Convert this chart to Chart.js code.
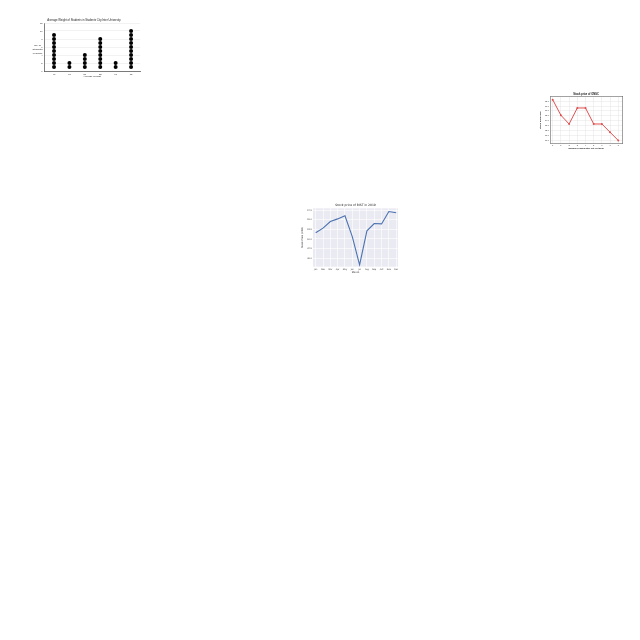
<!DOCTYPE html>
<html><head><meta charset="utf-8">
<script src="https://cdn.jsdelivr.net/npm/chart.js@4.4.0/dist/chart.umd.min.js"></script>
<style>
html,body{margin:0;padding:0;background:#fff;width:640px;height:640px;overflow:hidden}
canvas{position:absolute}
</style></head><body>
<canvas id="c1" width="116" height="68" style="left:28px;top:16px;width:116px;height:68px"></canvas>
<canvas id="c2" width="90" height="60" style="left:536px;top:91px;width:90px;height:60px"></canvas>
<canvas id="c3" width="102" height="75" style="left:299px;top:201px;width:102px;height:75px"></canvas>
<script>
// ---- Chart 1: dot plot of student weights ----
const weightCategories = ['40', '45', '50', '55', '60', '65'];
const studentCounts = [9, 2, 4, 8, 2, 10];
const weightYTicks = [0,1,2,3,4,5,6,7,8,9,10,11,12];

// ---- Chart 2: ONGC stock price ----
const ongcDays = [0, 1, 2, 3, 4, 5, 6, 7, 8];
const ongcPrices = [68.3, 65.1, 63.3, 66.6, 66.6, 63.3, 63.3, 61.6, 59.9];
const ongcYTicks = [60, 61, 62, 63, 64, 65, 66, 67, 68];

// ---- Chart 3: BIST stock price 2019 ----
const months = ['Jan','Feb','Mar','Apr','May','Jun','Jul','Aug','Sep','Oct','Nov','Dec'];
const bistPrices = [51.6, 52.8, 54.5, 55.2, 56.0, 50.6, 43.3, 52.1, 54.0, 53.9, 57.1, 56.8];
const bistYTicks = [45, 47.5, 50, 52.5, 55, 57.5];

const SANS = "'Liberation Sans', Arial, sans-serif";
const DJV = "'DejaVu Sans', sans-serif";

// Chart 1
const dotPoints = [];
weightCategories.forEach((c, i) => {
  for (let k = 1; k <= studentCounts[i]; k++) dotPoints.push({x: i, y: k});
});
new Chart(document.getElementById('c1'), {
  type: 'scatter',
  data: {datasets: [{data: dotPoints, pointRadius: 2, pointHoverRadius: 2,
    pointBackgroundColor: '#000', pointBorderWidth: 0}]},
  options: {
    responsive: false, animation: false, devicePixelRatio: 1,
    layout: {padding: {left: 0, right: 4, top: 0, bottom: 0}},
    plugins: {
      legend: {display: false}, tooltip: {enabled: false},
      title: {display: true, text: 'Average Weight of Students in Students City Inter University',
        font: {family: SANS, size: 2.75, weight: 'normal'}, color: '#222',
        padding: {top: 2.9, bottom: 0.8}}
    },
    scales: {
      x: {type: 'linear', min: -0.65, max: 5.58,
        afterBuildTicks: s => { s.ticks = weightCategories.map((c, i) => ({value: i})); },
        afterFit: s => { s.height = 13; },
        ticks: {callback: v => weightCategories[v], font: {family: SANS, size: 2.4}, padding: 1.8,
          color: '#222', maxRotation: 0, autoSkip: false},
        grid: {display: false, drawTicks: false},
        border: {display: true, color: '#000', width: 0.5},
        title: {display: true, text: 'Average Weight', font: {family: SANS, size: 2.5}, color: '#222',
          padding: {top: 0, bottom: 5.8}}
      },
      y: {min: 0, max: 12,
        afterBuildTicks: s => { s.ticks = weightYTicks.map(v => ({value: v})); },
        afterFit: s => { s.width = 16; },
        ticks: {font: {family: SANS, size: 2.2}, padding: 1.5, color: '#222'},
        grid: {color: '#e4e4e4', lineWidth: 0.5, drawTicks: false},
        border: {display: true, color: '#000', width: 0.5}
      }
    }
  },
  plugins: [{
    id: 'ylabel1',
    afterDraw(chart) {
      const ctx = chart.ctx;
      ctx.save();
      ctx.font = '2.5px ' + SANS;
      ctx.fillStyle = '#222';
      ctx.textAlign = 'center';
      ctx.textBaseline = 'middle';
      ['No. of', 'Students', 'in Grade'].forEach((t, i) => ctx.fillText(t, 9.5, 29.5 + i * 4));
      ctx.restore();
    }
  }]
});

// Chart 2
new Chart(document.getElementById('c2'), {
  type: 'line',
  data: {datasets: [{data: ongcDays.map((d, i) => ({x: d, y: ongcPrices[i]})),
    borderColor: '#e05050', backgroundColor: '#e05050', borderWidth: 1,
    pointRadius: 1, pointHoverRadius: 1, pointBorderWidth: 0, tension: 0}]},
  options: {
    responsive: false, animation: false, devicePixelRatio: 1,
    layout: {padding: {left: 0, right: 3.7, top: 0, bottom: 0}},
    plugins: {
      legend: {display: false}, tooltip: {enabled: false},
      title: {display: true, text: 'Stock price of ONGC', fullSize: false,
        font: {family: SANS, size: 2.6, weight: 'bold'}, color: '#111',
        padding: {top: 2.1, bottom: 0.7}}
    },
    scales: {
      x: {type: 'linear', min: -0.33, max: 8.49,
        afterBuildTicks: s => { s.ticks = ongcDays.map(v => ({value: v})); },
        afterFit: s => { s.height = 7.7; },
        ticks: {font: {family: SANS, size: 2.2}, padding: 1.2, color: '#333', maxRotation: 0, autoSkip: false},
        grid: {color: '#dddddd', lineWidth: 0.4, drawTicks: false},
        border: {display: true, color: '#444', width: 0.5},
        title: {display: true, text: 'Number of days after 1st Oct 2019',
          font: {family: SANS, size: 2.2, weight: 'bold'}, color: '#111', padding: {top: 0, bottom: 1.38}}
      },
      y: {min: 59.32, max: 68.88,
        afterBuildTicks: s => { s.ticks = ongcYTicks.map(v => ({value: v})); },
        afterFit: s => { s.width = 14; },
        ticks: {font: {family: SANS, size: 2.1}, padding: 1, color: '#333', callback: v => v.toFixed(1)},
        grid: {color: '#dddddd', lineWidth: 0.4, drawTicks: false},
        border: {display: true, color: '#444', width: 0.5},
        title: {display: true, text: 'Stock price (INR)',
          font: {family: SANS, size: 2.2, weight: 'bold'}, color: '#111', padding: {top: 3.3, bottom: 0}}
      },
      x2: {type: 'linear', position: 'top', min: 0, max: 1,
        afterFit: s => { s.height = 0; },
        ticks: {display: false}, grid: {display: false, drawTicks: false},
        border: {display: true, color: '#444', width: 0.5}},
      y2: {type: 'linear', position: 'right', min: 0, max: 1,
        afterFit: s => { s.width = 0; },
        ticks: {display: false}, grid: {display: false, drawTicks: false},
        border: {display: true, color: '#444', width: 0.5}}
    }
  }
});

// Chart 3
new Chart(document.getElementById('c3'), {
  type: 'line',
  data: {datasets: [{data: months.map((m, i) => ({x: i, y: bistPrices[i]})),
    borderColor: '#4C72B0', borderWidth: 1.1, pointRadius: 0, pointHoverRadius: 0, tension: 0}]},
  options: {
    responsive: false, animation: false, devicePixelRatio: 1,
    layout: {padding: {left: 0, right: 3, top: 0, bottom: 0}},
    plugins: {
      legend: {display: false}, tooltip: {enabled: false},
      title: {display: true, text: 'Stock price of BIST in 2019', fullSize: false,
        font: {family: DJV, size: 3, weight: 'normal'}, color: '#222',
        padding: {top: 2.2, bottom: 1.5}}
    },
    scales: {
      x: {type: 'linear', min: -0.37, max: 11.25,
        afterBuildTicks: s => { s.ticks = months.map((m, i) => ({value: i})); },
        afterFit: s => { s.height = 9.3; },
        ticks: {callback: v => months[v], font: {family: DJV, size: 2.1}, padding: 1.9, color: '#333',
          maxRotation: 0, autoSkip: false},
        grid: {color: '#ffffff', lineWidth: 0.6, drawTicks: false},
        border: {display: false},
        title: {display: true, text: 'Month', font: {family: DJV, size: 2.4}, color: '#222',
          padding: {top: 0, bottom: 1.86}}
      },
      y: {min: 42.83, max: 57.94,
        afterBuildTicks: s => { s.ticks = bistYTicks.map(v => ({value: v})); },
        afterFit: s => { s.width = 14; },
        ticks: {font: {family: DJV, size: 2.1}, padding: 1.2, color: '#333', callback: v => v.toFixed(1)},
        grid: {color: '#ffffff', lineWidth: 0.6, drawTicks: false},
        border: {display: false},
        title: {display: true, text: 'Stock Price (USD)', font: {family: DJV, size: 2.4}, color: '#222',
          padding: {top: 2.26, bottom: 0}}
      }
    }
  },
  plugins: [{
    id: 'bg3',
    beforeDraw(chart) {
      const {ctx, chartArea: a} = chart;
      ctx.save();
      ctx.fillStyle = '#EAEAF2';
      ctx.fillRect(a.left, a.top, a.right - a.left, a.bottom - a.top);
      ctx.restore();
    }
  }]
});
</script>
</body></html>
